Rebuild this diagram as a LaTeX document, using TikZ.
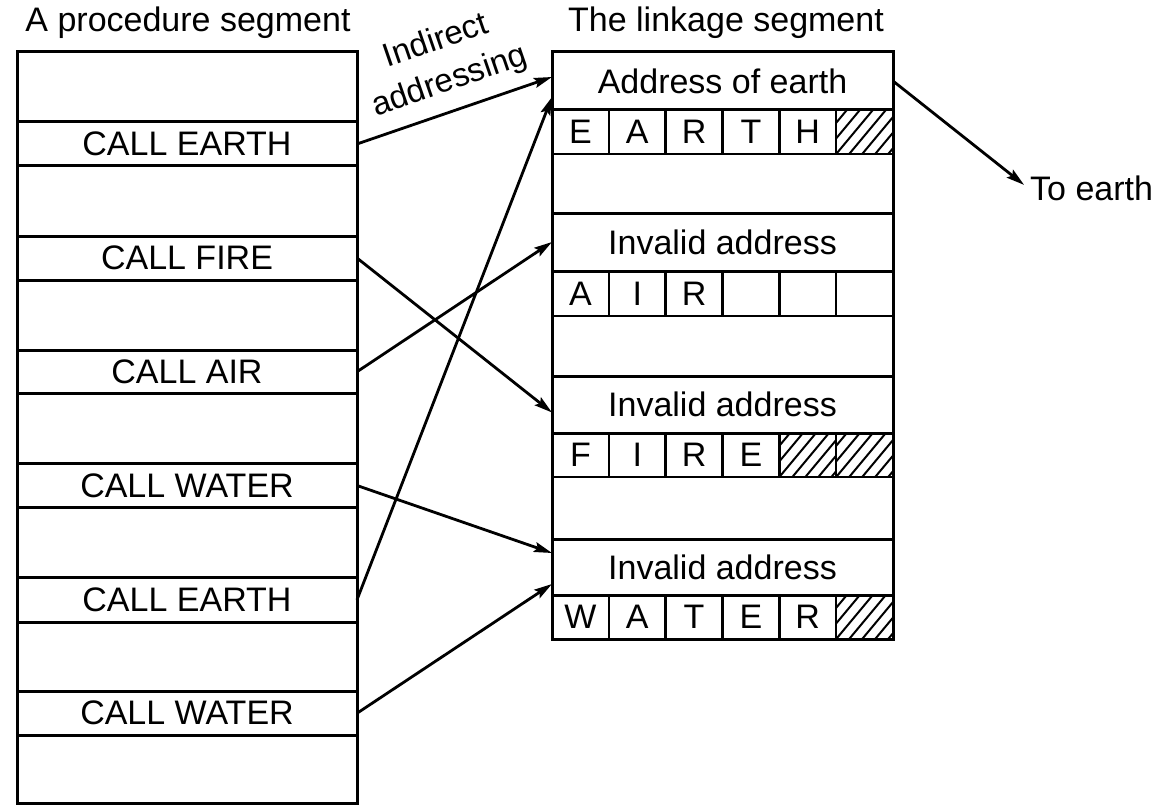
\documentclass[tikz,border=0pt]{standalone}
\usepackage{fontspec}
\setmainfont{Liberation Sans}
\usetikzlibrary{arrows.meta,calc}
\begin{document}
\begin{tikzpicture}[x=1pt,y=-1pt,
  txt/.style={font=\fontsize{34}{40}\selectfont},
  frame/.style={draw,line width=3pt,inner sep=0pt,outer sep=0pt,anchor=north west},
  callrow/.style={frame,txt,minimum width=340pt,minimum height=#1},
  labrow/.style={frame,txt,minimum width=341pt,minimum height=#1},
  cellbox/.style={draw,line width=2.4pt,inner sep=0pt,outer sep=0pt,anchor=north west,txt,minimum width=56.83pt,minimum height=#1},
  hatchbox/.style={cellbox=#1,path picture={
      \foreach \k in {-52,-39,...,60}
        \draw[line width=2pt] ($(path picture bounding box.south west)+(\k,0)$) -- ++(50,-60);}},
  conn/.style={line width=2.8pt,-{Stealth[length=18pt,width=10pt,inset=3pt]}}
]
\useasboundingbox (0,0) rectangle (1161,805);

% titles
\node[txt] (t1) at (188,23) {A procedure segment};
\node[txt] (t2) at (726,23) {The linkage segment};

% procedure segment
\node[frame,minimum width=340pt,minimum height=751pt] (proc) at (17,52) {};
\node[callrow=44pt] (e1) at (17,122) {CALL EARTH};
\node[callrow=44pt] (fi) at (17,236) {CALL FIRE};
\node[callrow=43.5pt] (ai) at (17,350) {CALL AIR};
\node[callrow=44pt] (w1) at (17,463.5) {CALL WATER};
\node[callrow=44.5pt] (e2) at (17,577.5) {CALL EARTH};
\node[callrow=43.5pt] (w2) at (17,691.5) {CALL WATER};

% linkage segment
\node[frame,minimum width=341pt,minimum height=587pt] (link) at (552,52) {};
\node[labrow=58pt] (addr) at (552,52) {Address of earth};
\node[cellbox=44pt] (r1a) at (552,110) {E};
\node[cellbox=44pt] (r1b) at (608.83,110) {A};
\node[cellbox=44pt] (r1c) at (665.67,110) {R};
\node[cellbox=44pt] (r1d) at (722.5,110) {T};
\node[cellbox=44pt] (r1e) at (779.33,110) {H};
\node[hatchbox=44pt] (r1f) at (836.17,110) {};

\node[labrow=58pt] (inv1) at (552,213) {Invalid address};
\node[cellbox=45pt] (r2a) at (552,271) {A};
\node[cellbox=45pt] (r2b) at (608.83,271) {I};
\node[cellbox=45pt] (r2c) at (665.67,271) {R};
\node[cellbox=45pt] (r2d) at (722.5,271) {};
\node[cellbox=45pt] (r2e) at (779.33,271) {};
\node[cellbox=45pt] (r2f) at (836.17,271) {};

\node[labrow=57pt] (inv2) at (552,376) {Invalid address};
\node[cellbox=44pt] (r3a) at (552,433) {F};
\node[cellbox=44pt] (r3b) at (608.83,433) {I};
\node[cellbox=44pt] (r3c) at (665.67,433) {R};
\node[cellbox=44pt] (r3d) at (722.5,433) {E};
\node[hatchbox=44pt] (r3e) at (779.33,433) {};
\node[hatchbox=44pt] (r3f) at (836.17,433) {};

\node[labrow=56pt] (inv3) at (552,539) {Invalid address};
\node[cellbox=44pt] (r4a) at (552,595) {W};
\node[cellbox=44pt] (r4b) at (608.83,595) {A};
\node[cellbox=44pt] (r4c) at (665.67,595) {T};
\node[cellbox=44pt] (r4d) at (722.5,595) {E};
\node[cellbox=44pt] (r4e) at (779.33,595) {R};
\node[hatchbox=44pt] (r4f) at (836.17,595) {};

% connectors
\draw[conn] (e1.east) -- ($(addr.west)+(0,-4)$);
\draw[conn] (e2.east) -- ($(addr.west)+(0,16)$);
\draw[conn] (fi.east) -- ($(inv2.west)+(0,8)$);
\draw[conn] (ai.east) -- (inv1.west);
\draw[conn] (w1.east) -- ($(inv3.west)+(0,-14)$);
\draw[conn] (w2.east) -- ($(inv3.west)+(0,17)$);

\node[txt,anchor=west,inner sep=2pt] (te) at (1028,188) {To earth};
\draw[conn,shorten >=5pt] (addr.east) -- (te.west);

\node[rotate=19,align=center,inner sep=0pt,font=\fontsize{33}{42}\selectfont] (ia) at (443,62) {Indirect\\addressing};
\end{tikzpicture}
\end{document}
